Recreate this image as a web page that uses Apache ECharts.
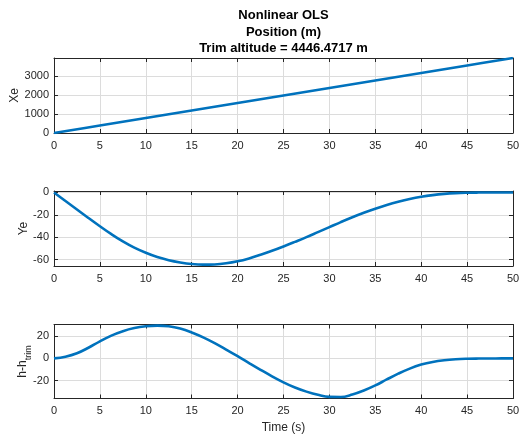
<!DOCTYPE html>
<html>
<head>
<meta charset="utf-8">
<script src="https://cdn.jsdelivr.net/npm/echarts@6/dist/echarts.min.js"></script>
<style>
  html, body { margin: 0; padding: 0; background: #fff; }
  #chart { width: 520px; height: 434px; }
</style>
</head>
<body>
<div id="chart"></div>
<script>
// Time samples (s) for the straight-line Xe track
const tXe = [0, 5, 10, 15, 20, 25, 30, 35, 40, 45, 50];
// North position Xe (m)
const xe = [0, 394, 788, 1183, 1577, 1971, 2365, 2759, 3154, 3548, 3942];

// Time samples (s) for the lateral and vertical tracks
const tFine = [0, 1.25, 2.5, 3.75, 5, 6.25, 7.5, 8.75, 10, 11.25, 12.5, 13.75, 15, 16.25, 17.5, 18.75,
  20, 21.25, 22.5, 23.75, 25, 26.25, 27.5, 28.75, 30, 31.25, 32.5, 33.75, 35, 36.25, 37.5, 38.75,
  40, 41.25, 42.5, 43.75, 45, 46.25, 47.5, 48.75, 50];
// East position Ye (m)
const ye = [0, -7.6, -15.2, -22.8, -30.2, -37.3, -43.8, -49.4, -54.0, -57.8, -60.6, -62.6, -64.0, -64.6,
  -64.4, -63.4, -61.6, -59.0, -55.8, -52.2, -48.3, -44.2, -40.0, -35.5, -31.0, -26.5, -22.2, -18.2,
  -14.6, -11.3, -8.4, -5.9, -3.9, -2.4, -1.3, -0.6, -0.25, -0.1, -0.04, -0.01, 0];
// Altitude deviation from trim h - h_trim (m)
const dh = [0, 1.5, 4.6, 9.6, 15.4, 20.6, 24.6, 27.4, 29.0, 29.6, 29.0, 26.9, 23.4, 19.0, 13.8, 8.0,
  2.0, -4.2, -10.3, -16.2, -21.6, -26.3, -30.0, -32.9, -34.7, -34.8, -32.6, -29.0, -24.4, -19.0,
  -13.8, -9.2, -5.6, -3.2, -1.7, -0.8, -0.35, -0.15, -0.05, -0.02, 0];

const xTicks = { min: 0, max: 50, interval: 5 };
const yRanges = [
  { min: 0, max: 3942 },
  { min: -65.8, max: 1.3 },
  { min: -36.2, max: 30.6 }
];

const INK = '#262626';
const FONT = "'Liberation Sans', Arial, Helvetica, sans-serif";

const grids = [
  { left: 54, width: 459, top: 58, height: 75, outerBoundsMode: 'none', containLabel: false },
  { left: 54, width: 459, top: 191, height: 75, outerBoundsMode: 'none', containLabel: false },
  { left: 54, width: 459, top: 324.5, height: 74, outerBoundsMode: 'none', containLabel: false }
];

const tickStyle = { show: true, inside: true, length: 4, lineStyle: { color: INK, width: 1 } };
const lineStyleAxis = { show: true, onZero: false, lineStyle: { color: INK, width: 1 } };
const gridLine = { show: true, lineStyle: { color: '#dcdcdc', width: 1 } };
const plain = v => String(v);

const xAxes = [];
const yAxes = [];
grids.forEach((g, i) => {
  xAxes.push({
    gridIndex: i, type: 'value', position: 'bottom',
    min: xTicks.min, max: xTicks.max, interval: xTicks.interval,
    axisLine: lineStyleAxis, axisTick: tickStyle, splitLine: gridLine,
    axisLabel: { fontSize: 11, color: INK, fontFamily: FONT, margin: 7, formatter: plain },
    name: i === 2 ? 'Time (s)' : '',
    nameLocation: 'middle', nameGap: 23, nameMoveOverlap: false,
    nameTextStyle: { fontSize: 12, color: INK, fontFamily: FONT }
  });
  yAxes.push({
    gridIndex: i, type: 'value', position: 'left',
    min: yRanges[i].min, max: yRanges[i].max, splitNumber: 4,
    axisLine: lineStyleAxis, axisTick: tickStyle, splitLine: gridLine,
    axisLabel: {
      fontSize: 11, color: INK, fontFamily: FONT, margin: 5, formatter: plain,
      showMaxLabel: false, showMinLabel: i === 0
    },
    name: ['Xe', 'Ye', '{m|h-h}{s|trim}'][i],
    nameLocation: 'middle', nameGap: [33, 24, 25][i], nameMoveOverlap: false,
    nameTextStyle: {
      fontSize: 12, color: INK, fontFamily: FONT,
      rich: {
        m: { fontSize: 12, color: INK, fontFamily: FONT },
        s: { fontSize: 9, color: INK, fontFamily: FONT, verticalAlign: 'bottom', padding: [0, 0, -4, 0] }
      }
    }
  });
});
// Box edges: mirrored axes on top and right carry inward ticks only
grids.forEach((g, i) => {
  xAxes.push({
    gridIndex: i, type: 'value', position: 'top',
    min: xTicks.min, max: xTicks.max, interval: xTicks.interval,
    axisLine: lineStyleAxis, axisTick: tickStyle,
    axisLabel: { show: false }, splitLine: { show: false }
  });
  yAxes.push({
    gridIndex: i, type: 'value', position: 'right',
    min: yRanges[i].min, max: yRanges[i].max, splitNumber: 4,
    axisLine: lineStyleAxis, axisTick: tickStyle,
    axisLabel: { show: false }, splitLine: { show: false }
  });
});

const tracks = [[tXe, xe], [tFine, ye], [tFine, dh]];
const series = tracks.map(([ts, vs], i) => ({
  type: 'line',
  xAxisIndex: i, yAxisIndex: i,
  data: ts.map((t, k) => [t, vs[k]]),
  showSymbol: false, smooth: 0.4,
  lineStyle: { color: '#0072BD', width: 2.6 },
  itemStyle: { color: '#0072BD' },
  animation: false
}));

const titleLines = ['Nonlinear OLS', 'Position (m)', 'Trim altitude = 4446.4717 m'];
const titleY = [15, 32, 48.5];

const chart = echarts.init(document.getElementById('chart'), null, { renderer: 'canvas' });
chart.setOption({
  animation: false,
  backgroundColor: '#ffffff',
  grid: grids,
  xAxis: xAxes,
  yAxis: yAxes,
  series: series,
  graphic: titleLines.map((t, i) => ({
    type: 'text',
    x: 283.5, y: titleY[i],
    style: {
      text: t, fill: '#000', textAlign: 'center', textVerticalAlign: 'middle',
      fontSize: 13, fontWeight: 'bold', fontFamily: FONT
    }
  }))
});
</script>
</body>
</html>
